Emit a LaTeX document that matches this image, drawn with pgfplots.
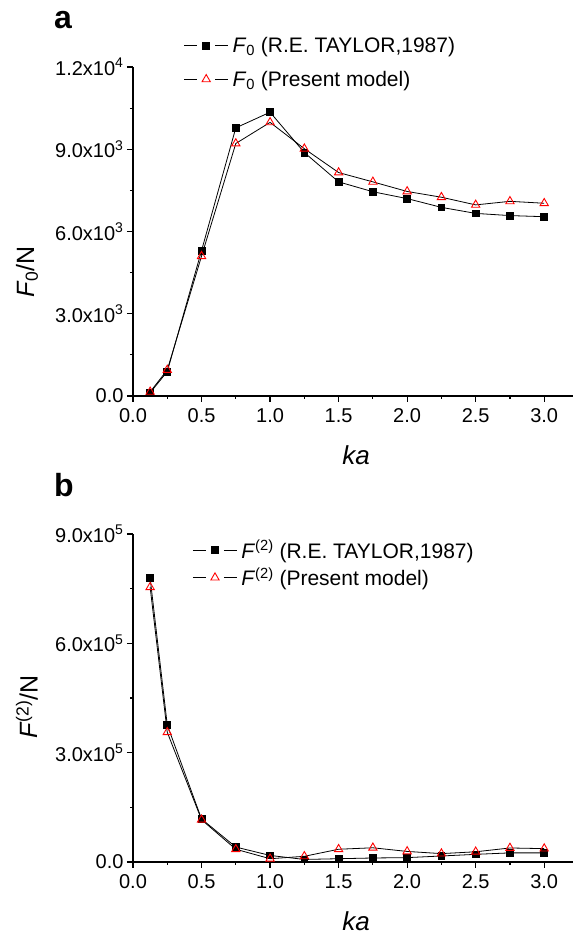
\documentclass[border=0pt]{standalone}
\usepackage{fontspec}
\setmainfont{Liberation Sans}
\usepackage{pgfplots}
\pgfplotsset{compat=1.18}
\pgfplotstableread{
x y
0.125 120
0.25 890
0.5 5300
0.75 9780
1.0 10350
1.25 8880
1.5 7810
1.75 7450
2.0 7200
2.25 6880
2.5 6660
2.75 6580
3.0 6540
}\taylorA
\pgfplotstableread{
x y
0.125 150
0.25 950
0.5 5100
0.75 9210
1.0 9980
1.25 9020
1.5 8150
1.75 7810
2.0 7460
2.25 7250
2.5 6970
2.75 7100
3.0 7030
}\presentA
\pgfplotstableread{
x y
0.125 779000
0.25 376000
0.5 118000
0.75 41000
1.0 18000
1.25 7000
1.5 9000
1.75 11000
2.0 12000
2.25 16500
2.5 21000
2.75 25000
3.0 25000
}\taylorB
\pgfplotstableread{
x y
0.125 754000
0.25 356000
0.5 116000
0.75 35000
1.0 9000
1.25 15600
1.5 35000
1.75 39000
2.0 29000
2.25 23000
2.5 28000
2.75 38500
3.0 36700
}\presentB
\pgfplotsset{
  myaxis/.style={
    scale only axis,
    width=440pt,
    xmin=0, xmax=3.21,
    ymin=0,
    axis x line*=bottom,
    axis y line*=left,
    axis line style={line width=1.2pt},
    tick align=outside,
    major tick length=6pt,
    minor tick length=3pt,
    every tick/.style={black, line width=1.2pt},
    minor x tick num=1,
    minor y tick num=1,
    xtick={0,0.5,1,1.5,2,2.5,3},
    xticklabels={0.0,0.5,1.0,1.5,2.0,2.5,3.0},
    scaled y ticks=false,
    tick label style={font=\fontsize{20}{23}\selectfont},
    xticklabel style={yshift=-3pt},
    xlabel={\textit{ka}},
    xlabel style={font=\fontsize{26}{30}\selectfont, at={(axis description cs:0.507,-0.18)}, anchor=center},
    clip=false,
    legend cell align=left,
    legend image code/.code={\draw[#1, mark=none] (0pt,0pt) -- (13pt,0pt); \draw[#1, mark=none] (31pt,0pt) -- (44pt,0pt); \draw[#1, only marks] plot coordinates {(22pt,0pt)};},
  },
  blk/.style={black, line width=0.8pt, mark=square*, mark size=3.4pt, mark options={solid, fill=black, draw=black}},
  red/.style={black, line width=0.8pt, mark=triangle, mark size=4.8pt, mark options={solid, draw=red, fill=white, line width=0.9pt}},
}
\begin{document}
\begin{tikzpicture}
\useasboundingbox (0,0) rectangle (574pt,934pt);
\begin{axis}[myaxis,
  at={(133pt,538pt)}, anchor=south west,
  height=329pt,
  ymax=12000,
  ytick={0,3000,6000,9000,12000},
  yticklabels={0.0,3.0x10\textsuperscript{3},6.0x10\textsuperscript{3},9.0x10\textsuperscript{3},1.2x10\textsuperscript{4}},
  ylabel={\textit{F}\textsubscript{0}/N},
  ylabel style={font=\fontsize{25}{30}\selectfont, at={(axis description cs:-0.241,0.377)}, anchor=center},
  legend style={at={(axis description cs:0.115,1.097)}, anchor=north west, draw=none, fill=none, font=\fontsize{21}{25}\selectfont, row sep=13pt, inner sep=0pt, nodes={inner xsep=4pt}},
]
\addplot[blk] table[x=x,y=y] {\taylorA};
\addlegendentry{\textit{F}\textsubscript{0} (R.E. TAYLOR,1987)}
\addplot[red] table[x=x,y=y] {\presentA};
\addlegendentry{\textit{F}\textsubscript{0} (Present model)}
\end{axis}
\begin{axis}[myaxis,
  at={(133pt,72pt)}, anchor=south west,
  height=328pt,
  ymax=900000,
  ytick={0,300000,600000,900000},
  yticklabels={0.0,3.0x10\textsuperscript{5},6.0x10\textsuperscript{5},9.0x10\textsuperscript{5}},
  ylabel={\textit{F}\textsuperscript{(2)}/N},
  ylabel style={font=\fontsize{25}{30}\selectfont, at={(axis description cs:-0.241,0.473)}, anchor=center},
  legend style={at={(axis description cs:0.135,0.988)}, anchor=north west, draw=none, fill=none, font=\fontsize{21}{25}\selectfont, row sep=4pt, inner sep=0pt, nodes={inner xsep=4pt}},
]
\addplot[blk] table[x=x,y=y] {\taylorB};
\addlegendentry{\textit{F}\textsuperscript{(2)} (R.E. TAYLOR,1987)}
\addplot[red] table[x=x,y=y] {\presentB};
\addlegendentry{\textit{F}\textsuperscript{(2)} (Present model)}
\end{axis}
\node[anchor=base west, font=\fontsize{32}{36}\selectfont\bfseries, inner sep=0pt] at (54pt,905pt) {a};
\node[anchor=base west, font=\fontsize{32}{36}\selectfont\bfseries, inner sep=0pt] at (54pt,437pt) {b};
\end{tikzpicture}
\end{document}
